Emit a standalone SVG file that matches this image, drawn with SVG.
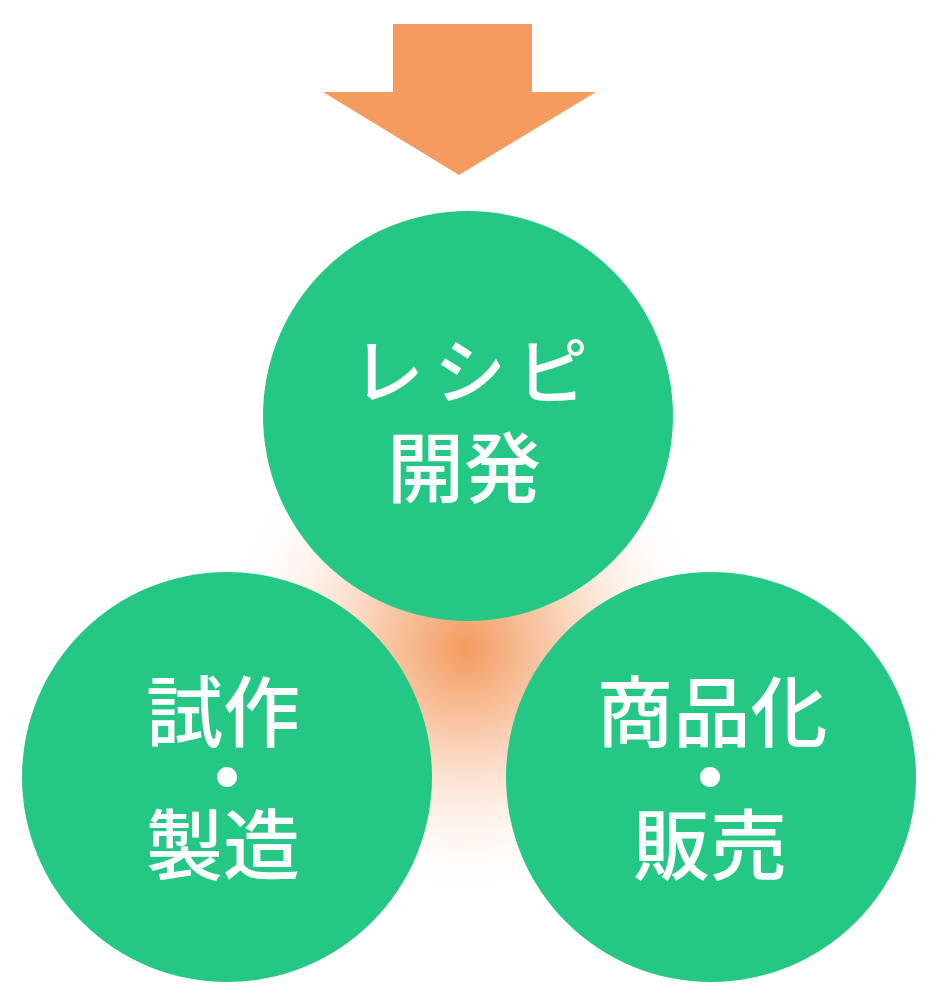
<svg xmlns="http://www.w3.org/2000/svg" width="938" height="1006" viewBox="0 0 938 1006">
<defs>
<radialGradient id="glow" cx="465" cy="648" r="240" gradientUnits="userSpaceOnUse">
<stop offset="0" stop-color="#F39A5C" stop-opacity="1"/>
<stop offset="0.35" stop-color="#F5A470" stop-opacity="0.6"/>
<stop offset="0.7" stop-color="#F8C6A4" stop-opacity="0.25"/>
<stop offset="1" stop-color="#FBE3D3" stop-opacity="0"/>
</radialGradient>
<style>
.c{fill:#25C784}
.t{fill:#fff;font-family:"Noto Sans CJK JP","Noto Sans CJK SC",sans-serif;font-weight:500;text-anchor:middle;dominant-baseline:central}
.d{font-weight:700;font-size:78px}
</style>
</defs>
<rect width="938" height="1006" fill="#fff"/>
<circle cx="465" cy="648" r="240" fill="url(#glow)"/>
<g id="arrow">
<polygon points="393,24 532,24 532,92 596,92 459,175 323,92 393,92" fill="#F59B5F"/>
</g>
<g id="connectors"></g>
<g id="node-recipe">
<circle class="c" cx="468" cy="416" r="205"/>
<text class="t" x="475" y="366" font-size="72" letter-spacing="10">レシピ</text>
<text class="t" x="464" y="463" font-size="77">開発</text>
</g>
<g id="node-trial">
<circle class="c" cx="227" cy="777" r="205"/>
<text class="t" x="223" y="707" font-size="77">試作</text>
<text class="t d" x="227" y="773">・</text>
<text class="t" x="223" y="840" font-size="77">製造</text>
</g>
<g id="node-sales">
<circle class="c" cx="711" cy="777" r="205"/>
<text class="t" x="712" y="707" font-size="77">商品化</text>
<text class="t d" x="710" y="773">・</text>
<text class="t" x="710" y="840" font-size="77">販売</text>
</g>
</svg>
